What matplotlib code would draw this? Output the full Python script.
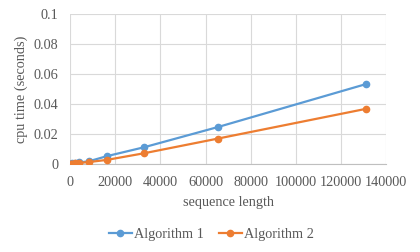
import matplotlib
matplotlib.use("Agg")
import matplotlib.pyplot as plt

seq_len = [256, 512, 1024, 2048, 4096, 8192, 16384, 32768, 65536, 131072]
alg1 = [0.0001, 0.0002, 0.0004, 0.0007, 0.0011, 0.0018, 0.0053, 0.0112, 0.0247, 0.0533]
alg2 = [0.0001, 0.0002, 0.0003, 0.0005, 0.0008, 0.0013, 0.0028, 0.0072, 0.0170, 0.0368]
series_names = ["Algorithm 1", "Algorithm 2"]
xticks = [0, 20000, 40000, 60000, 80000, 100000, 120000, 140000]
yticks = [0, 0.02, 0.04, 0.06, 0.08, 0.1]
ytick_labels = ["0", "0.02", "0.04", "0.06", "0.08", "0.1"]

plt.rcParams['font.family'] = ['Liberation Serif', 'DejaVu Serif']
fs = 10.3
fig = plt.figure(figsize=(4.2, 2.52), dpi=100)
ax = fig.add_axes([0.167, 0.349, 0.752, 0.595])

ax.plot(seq_len, alg1, color='#5B9BD5', lw=1.6, marker='o', ms=4.5, label=series_names[0], zorder=3)
ax.plot(seq_len, alg2, color='#ED7D31', lw=1.6, marker='o', ms=4.5, label=series_names[1], zorder=3)

ax.set_xlim(0, 140000)
ax.set_ylim(0, 0.1)
ax.set_xticks(xticks)
ax.set_xticklabels([str(v) for v in xticks])
ax.set_yticks(yticks)
ax.set_yticklabels(ytick_labels)
ax.grid(True, color='#D9D9D9', lw=0.8)
ax.set_axisbelow(True)
for s in ['top', 'right', 'left']:
    ax.spines[s].set_visible(False)
ax.spines['bottom'].set_color('#BFBFBF')
ax.tick_params(length=0, labelsize=fs, colors='#595959', pad=8.6)
ax.set_xlabel('sequence length', fontsize=fs, color='#595959', labelpad=5)
ax.set_ylabel('cpu time (seconds)', fontsize=fs, color='#595959', labelpad=4)

leg = fig.legend(loc='center', bbox_to_anchor=(0.503, 1 - 234 / 252), ncol=2, frameon=False,
                 fontsize=fs, handlelength=1.6, columnspacing=1.05, handletextpad=0.15)
for t in leg.get_texts():
    t.set_color('#595959')

fig.savefig('out.png', dpi=100)
